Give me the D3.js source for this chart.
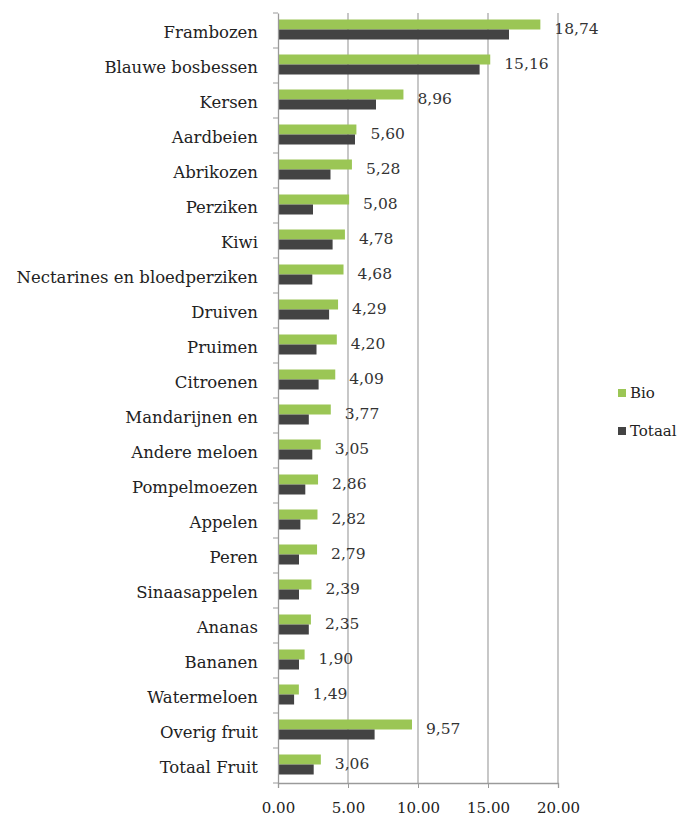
<!DOCTYPE html>
<html>
<head>
<meta charset="utf-8">
<script src="https://d3js.org/d3.v7.min.js"></script>
<style>
body { margin: 0; background: #fff; }
text { font-family: "DejaVu Serif", serif; }
</style>
</head>
<body>
<div id="main"></div>
<script>
// fruit categories, top to bottom
var categories = ["Frambozen", "Blauwe bosbessen", "Kersen", "Aardbeien", "Abrikozen", "Perziken", "Kiwi",
	"Nectarines en bloedperziken", "Druiven", "Pruimen", "Citroenen", "Mandarijnen en", "Andere meloen",
	"Pompelmoezen", "Appelen", "Peren", "Sinaasappelen", "Ananas", "Bananen", "Watermeloen",
	"Overig fruit", "Totaal Fruit"];
var bio = [18.74, 15.16, 8.96, 5.60, 5.28, 5.08, 4.78, 4.68, 4.29, 4.20, 4.09, 3.77, 3.05, 2.86, 2.82, 2.79,
	2.39, 2.35, 1.90, 1.49, 9.57, 3.06];
var totaal = [16.5, 14.4, 7.0, 5.5, 3.75, 2.5, 3.9, 2.45, 3.65, 2.75, 2.9, 2.2, 2.45, 1.95, 1.6, 1.5,
	1.5, 2.2, 1.5, 1.15, 6.9, 2.55];
var xTicks = [0, 5, 10, 15, 20];
var seriesNames = ["Bio", "Totaal"];
var seriesColors = ["#9bc655", "#434343"];

var svg = d3.select("#main").append("svg")
	.attr("width", 693)
	.attr("height", 818);

var plotLeft = 278, plotRight = 558, plotTop = 13, plotBottom = 783;

var x = d3.scaleLinear().domain([0, 20]).range([plotLeft, plotRight]);
var y = d3.scaleBand().domain(categories).range([plotTop, plotBottom]).paddingInner(0).paddingOuter(0);
var barH = 10;

// vertical gridlines
svg.selectAll(".grid")
	.data(xTicks.slice(1))
	.enter().append("line")
	.attr("x1", function(d) { return x(d); })
	.attr("x2", function(d) { return x(d); })
	.attr("y1", plotTop)
	.attr("y2", plotBottom)
	.style("stroke", "#aaaaaa")
	.style("stroke-width", 1.3);

// bars
svg.selectAll(".bio")
	.data(categories)
	.enter().append("rect")
	.attr("x", x(0))
	.attr("y", function(d) { return y(d) + y.bandwidth() / 2 - barH - 1; })
	.attr("width", function(d, i) { return x(bio[i]) - x(0); })
	.attr("height", barH)
	.attr("fill", seriesColors[0]);

svg.selectAll(".tot")
	.data(categories)
	.enter().append("rect")
	.attr("x", x(0))
	.attr("y", function(d) { return y(d) + y.bandwidth() / 2 - 1; })
	.attr("width", function(d, i) { return x(totaal[i]) - x(0); })
	.attr("height", barH)
	.attr("fill", seriesColors[1]);

// value labels for Bio
svg.selectAll(".lbl")
	.data(categories)
	.enter().append("text")
	.attr("x", function(d, i) { return x(bio[i]) + 14; })
	.attr("y", function(d) { return y(d) + y.bandwidth() / 2 - 2; })
	.attr("dy", "0.35em")
	.style("font-size", "15.5px")
	.style("fill", "#333")
	.text(function(d, i) { return bio[i].toFixed(2).replace(".", ","); });

// y axis
var yAxis = svg.append("g")
	.attr("transform", "translate(" + plotLeft + ",0)")
	.call(d3.axisLeft(y).tickSize(0).tickPadding(20));
yAxis.select(".domain").style("stroke", "#9a9a9a").style("stroke-width", 1.3);
yAxis.selectAll("text").attr("dy", "0.45em").style("font-size", "16.5px").style("fill", "#222").style("font-family", "DejaVu Serif");
// little ticks between categories
svg.selectAll(".ytick")
	.data(d3.range(categories.length + 1))
	.enter().append("line")
	.attr("x1", plotLeft - 5)
	.attr("x2", plotLeft)
	.attr("y1", function(d) { return plotTop + d * y.step(); })
	.attr("y2", function(d) { return plotTop + d * y.step(); })
	.style("stroke", "#9a9a9a");

// x axis
var xAxis = svg.append("g")
	.attr("transform", "translate(0," + plotBottom + ")")
	.call(d3.axisBottom(x).tickValues(xTicks).tickSize(5).tickPadding(14)
		.tickFormat(function(d) { return d.toFixed(2); }));
xAxis.select(".domain").style("stroke", "#9a9a9a").style("stroke-width", 1.3);
xAxis.selectAll("line").style("stroke", "#9a9a9a");
xAxis.selectAll("text").style("font-size", "15px").style("fill", "#222").style("font-family", "DejaVu Serif");

// legend
var legend = svg.selectAll(".legend")
	.data(seriesNames)
	.enter().append("g")
	.attr("transform", function(d, i) { return "translate(618," + (393 + i * 38) + ")"; });
legend.append("rect")
	.attr("x", 0)
	.attr("y", -4)
	.attr("width", 8)
	.attr("height", 8)
	.attr("fill", function(d, i) { return seriesColors[i]; });
legend.append("text")
	.attr("x", 12)
	.attr("y", 0)
	.attr("dy", "0.35em")
	.style("font-size", "15px")
	.style("fill", "#222")
	.text(function(d) { return d; });
</script>
</body>
</html>
